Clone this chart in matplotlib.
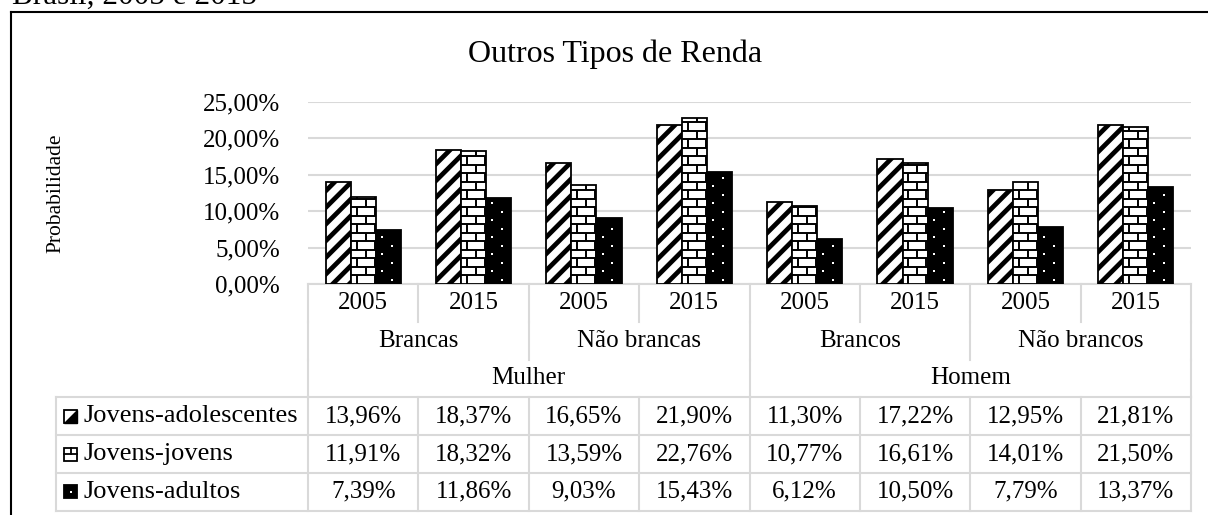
import matplotlib
matplotlib.use("Agg")
import matplotlib.pyplot as plt
import matplotlib.transforms as mtransforms
from matplotlib.patches import Rectangle, Polygon
from matplotlib.lines import Line2D
from matplotlib.collections import LineCollection
import numpy as np

# dados (em %)
years = ["2005", "2015", "2005", "2015", "2005", "2015", "2005", "2015"]
races = ["Brancas", "Não brancas", "Brancos", "Não brancos"]
sexes = ["Mulher", "Homem"]
series_names = ["Jovens-adolescentes", "Jovens-jovens", "Jovens-adultos"]
adolescentes = [13.96, 18.37, 16.65, 21.90, 11.30, 17.22, 12.95, 21.81]
jovens = [11.91, 18.32, 13.59, 22.76, 10.77, 16.61, 14.01, 21.50]
adultos = [7.39, 11.86, 9.03, 15.43, 6.12, 10.50, 7.79, 13.37]
yticks = [0, 5, 10, 15, 20, 25]

plt.rcParams["font.family"] = ["Liberation Serif", "DejaVu Serif"]
plt.rcParams["hatch.linewidth"] = 3.4

W, H = 1208, 515
fig = plt.figure(figsize=(W / 100, H / 100), dpi=100)


def fx(px):
    return px / W


def fy(py):
    return 1 - py / H


ax = fig.add_axes([fx(308), fy(284), fx(1191) - fx(308), fy(102) - fy(284)])

grid_col = "#d9d9d9"
n = len(years)
x = np.arange(n) + 0.5
bw = 0.227

b1 = ax.bar(x - bw, adolescentes, bw, facecolor="white", edgecolor="black",
            hatch="//", linewidth=1.3, zorder=3)
b2 = ax.bar(x, jovens, bw, facecolor="white", edgecolor="black",
            linewidth=1.3, zorder=3)
b3 = ax.bar(x + bw, adultos, bw, facecolor="black", edgecolor="black",
            linewidth=1.3, zorder=3)

# padrao de tijolos
brick_h = 1.17
brick_w = 0.163
for rect in b2:
    x0, w, h = rect.get_x(), rect.get_width(), rect.get_height()
    segs = [[(x0, y), (x0 + w, y)] for y in np.arange(brick_h, h, brick_h)]
    for k, y in enumerate(np.arange(0, h, brick_h)):
        start = x0 + (0.054 if k % 2 == 0 else 0.054 + brick_w / 2)
        for xv in np.arange(start, x0 + w, brick_w):
            segs.append([(xv, y), (xv, min(y + brick_h, h))])
    lc = LineCollection(segs, colors="black", linewidths=1.4, zorder=3.5)
    ax.add_collection(lc)
    lc.set_clip_path(rect)

# pontinhos brancos
for rect in b3:
    x0, w, h = rect.get_x(), rect.get_width(), rect.get_height()
    ys = np.arange(brick_h / 2, h - 0.4, brick_h)
    xs = [x0 + (0.145 if k % 2 == 0 else 0.055) for k in range(len(ys))]
    ax.scatter(xs, ys, s=3, marker="s", c="white", linewidths=0, zorder=4)

ax.set_xlim(0, n)
ax.set_ylim(0, 25)
ax.set_yticks(yticks)
ax.set_yticklabels([f"{v:.2f}%".replace(".", ",") for v in yticks], fontsize=18)
ax.set_xticks([])
ax.tick_params(axis="y", length=0, pad=20)
ax.yaxis.grid(True, color=grid_col, linewidth=1.5)
ax.set_axisbelow(True)
for s in ax.spines.values():
    s.set_visible(False)

# tabela de dados
tr = mtransforms.blended_transform_factory(ax.transData, ax.transAxes)
ax_h = 182
rh = 37.8 / ax_h
cat_px = (1191 - 308) / n
leg_x = (56 - 308) / cat_px
tbl = dict(transform=tr, color=grid_col, lw=1.5, clip_on=False)


def hline(x0, x1, y):
    ax.add_line(Line2D([x0, x1], [y, y], **tbl))


def vline(xv, y0, y1):
    ax.add_line(Line2D([xv, xv], [y0, y1], **tbl))


hline(0, n, 0)
for k in range(3, 7):
    hline(leg_x, n, -rh * k)
for i in range(n + 1):
    vline(i, 0, -rh)
    vline(i, -rh * 3, -rh * 6)
for i in range(0, n + 1, 2):
    vline(i, -rh, -rh * 2)
for i in range(0, n + 1, 4):
    vline(i, -rh * 2, -rh * 3)
vline(leg_x, -rh * 3, -rh * 6)

txt = dict(transform=tr, fontsize=18, ha="center", va="center", clip_on=False)
for i, yr in enumerate(years):
    ax.text(i + 0.5, -rh * 0.5, yr, **txt)
for j, r in enumerate(races):
    ax.text(2 * j + 1, -rh * 1.5, r, **txt)
for k, sx in enumerate(sexes):
    ax.text(4 * k + 2, -rh * 2.5, sx, **txt)

for s, vals in enumerate([adolescentes, jovens, adultos]):
    yc = -rh * (3.5 + s)
    for i, v in enumerate(vals):
        ax.text(i + 0.5, yc, f"{v:.2f}%".replace(".", ","), **txt)
    ax.text((83 - 308) / cat_px, yc, series_names[s], transform=tr, fontsize=19,
            ha="left", va="center", clip_on=False)

    # chave da legenda
    kw, kh = 13 / cat_px, 13 / ax_h
    kx, ky = (64 - 308) / cat_px, yc - kh / 2
    if s == 0:
        ax.add_patch(Rectangle((kx, ky), kw, kh, transform=tr, facecolor="white",
                               edgecolor="black", lw=1.3, clip_on=False))
        ax.add_patch(Polygon([(kx, ky), (kx + kw, ky), (kx + kw, ky + kh)],
                             closed=True, transform=tr, facecolor="black",
                             edgecolor="black", lw=1, clip_on=False))
    elif s == 1:
        ax.add_patch(Rectangle((kx, ky), kw, kh, transform=tr, facecolor="white",
                               edgecolor="black", lw=1.3, clip_on=False))
        ax.add_line(Line2D([kx, kx + kw], [ky + kh / 2] * 2, transform=tr,
                           color="black", lw=1.3, clip_on=False))
        ax.add_line(Line2D([kx + kw / 2] * 2, [ky + kh / 2, ky + kh], transform=tr,
                           color="black", lw=1.3, clip_on=False))
    else:
        ax.add_patch(Rectangle((kx, ky), kw, kh, transform=tr, facecolor="black",
                               edgecolor="black", lw=1.3, clip_on=False))
        ax.scatter([kx + kw / 2], [ky + kh / 2], s=4, marker="s", c="white",
                   linewidths=0, transform=tr, clip_on=False, zorder=5)

# titulos e moldura
fig.text(fx(615), fy(62), "Outros Tipos de Renda", fontsize=23, ha="center",
         va="baseline")
fig.text(fx(56), fy(193), "Probabilidade", fontsize=15.5, rotation=90,
         ha="center", va="center")
fig.text(fx(12), fy(4), "Brasil, 2005 e 2015", fontsize=22.5, ha="left",
         va="baseline")
fig.add_artist(Line2D([fx(11), 1.01], [fy(12), fy(12)], color="black", lw=1.5))
fig.add_artist(Line2D([fx(11), fx(11)], [fy(12), -0.01], color="black", lw=1.5))

fig.savefig("out.png", dpi=100)
